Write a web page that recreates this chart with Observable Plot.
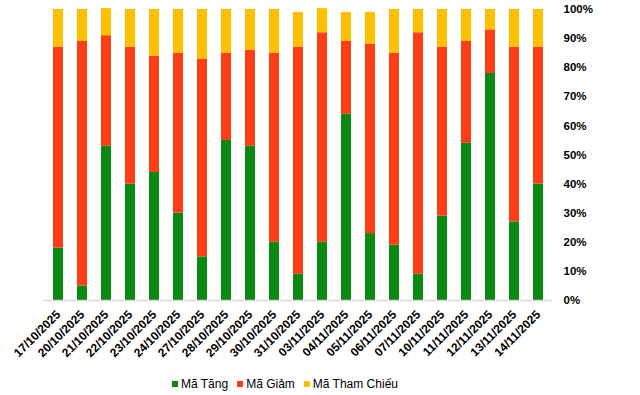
<!DOCTYPE html>
<html>
<head>
<meta charset="utf-8">
<script src="https://cdn.jsdelivr.net/npm/d3@7"></script>
<script src="https://cdn.jsdelivr.net/npm/@observablehq/plot@0.6"></script>
<style>
  body { margin: 0; background: #fff; font-family: Arial, "Liberation Sans", sans-serif; }
  #chart { width: 640px; height: 395px; overflow: hidden; }
  .legend { height: 25px; line-height: 26px; padding-left: 172px; font-size: 12px; color: #000; white-space: nowrap; }
  .legend span.item { display: inline-flex; align-items: center; margin-right: 9px; }
  .legend span.sw { display: inline-block; width: 6px; height: 6px; margin-right: 3px; }
</style>
</head>
<body>
<div id="chart"></div>
<script>
const dates = ["17/10/2025","20/10/2025","21/10/2025","22/10/2025","23/10/2025","24/10/2025","27/10/2025","28/10/2025","29/10/2025","30/10/2025","31/10/2025","03/11/2025","04/11/2025","05/11/2025","06/11/2025","07/11/2025","10/11/2025","11/11/2025","12/11/2025","13/11/2025","14/11/2025"];
const tang      = [18, 5, 53, 40, 44, 30, 15, 55, 53, 20,  9, 20, 64, 23, 19,  9, 29, 54, 78, 27, 40];
const giam      = [69, 84, 38, 47, 40, 55, 68, 30, 33, 65, 78, 72, 25, 65, 66, 83, 58, 35, 15, 60, 47];
const thamChieu = [13, 11, 9.3, 13, 16, 15, 17, 15, 14, 15, 12, 8.3, 10, 11, 15, 8, 13, 11, 7, 13, 13];
const seriesNames = ["Mã Tăng", "Mã Giảm", "Mã Tham Chiếu"];
const seriesColors = ["#0B8A13", "#FF3C14", "#FFC000"];
const yTicks = [0,10,20,30,40,50,60,70,80,90,100];

const rows = [];
dates.forEach((d, i) => {
  rows.push({date: d, series: seriesNames[0], value: tang[i]});
  rows.push({date: d, series: seriesNames[1], value: giam[i]});
  rows.push({date: d, series: seriesNames[2], value: thamChieu[i]});
});

const plot = Plot.plot({
  width: 640,
  height: 370,
  marginTop: 9,
  marginBottom: 70,
  marginLeft: 43,
  marginRight: 88,
  style: {fontFamily: 'Arial, "Liberation Sans", sans-serif', background: "#fff", color: "#000"},
  x: {domain: dates, paddingInner: 0.6, paddingOuter: 0.3, label: null},
  y: {domain: [0, 100], label: null},
  color: {domain: seriesNames, range: seriesColors},
  marks: [
    Plot.barY(rows, {x: "date", y: "value", fill: "series", order: null}),
    Plot.ruleY([0], {stroke: "#d9d9d9", strokeWidth: 1.5}),
    Plot.axisY({anchor: "right", ticks: yTicks, tickSize: 0, tickPadding: 11, tickFormat: d => d + "%", fontSize: 11.5, fontWeight: "bold", label: null}),
    Plot.axisX({tickRotate: -45, tickSize: 0, tickPadding: 12, fontSize: 12, fontWeight: "bold", label: null})
  ]
});
document.getElementById("chart").appendChild(plot);

const legend = document.createElement("div");
legend.className = "legend";
seriesNames.forEach((name, i) => {
  const item = document.createElement("span");
  item.className = "item";
  const sw = document.createElement("span");
  sw.className = "sw";
  sw.style.background = seriesColors[i];
  item.appendChild(sw);
  item.appendChild(document.createTextNode(name));
  legend.appendChild(item);
});
document.getElementById("chart").appendChild(legend);
</script>
</body>
</html>
